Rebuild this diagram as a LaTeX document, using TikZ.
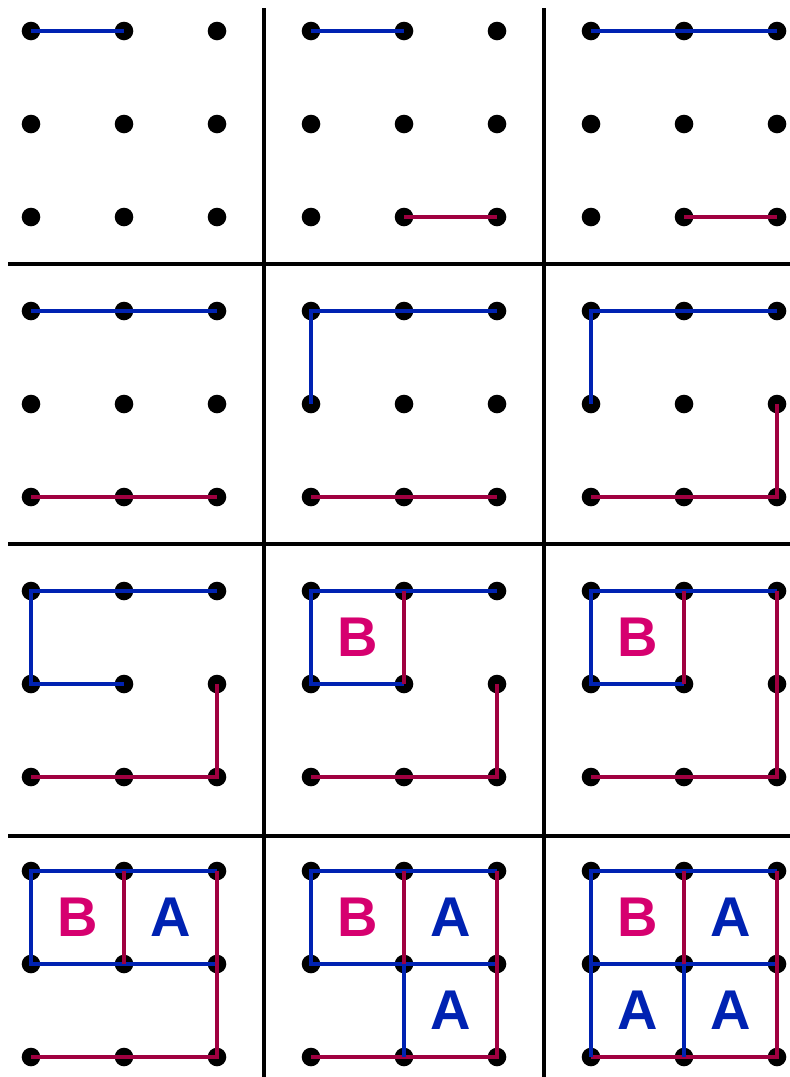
\documentclass[tikz,border=0pt]{standalone}
\usepackage{fontspec}
\setmainfont{Liberation Sans}
\usetikzlibrary{calc}
\definecolor{lblue}{RGB}{0,34,178}
\definecolor{lred}{RGB}{160,0,64}
\definecolor{lmag}{RGB}{214,0,111}
\tikzset{
  divider/.style={line width=4pt, black},
  bl/.style={line width=4pt, lblue},
  rd/.style={line width=4pt, lred},
  letterB/.style={text=lmag, font=\bfseries\fontsize{56}{56}\selectfont, inner sep=0pt, anchor=center},
  letterA/.style={text=lblue, font=\bfseries\fontsize{56}{56}\selectfont, inner sep=0pt, anchor=center},
}
\begin{document}
\begin{tikzpicture}[x=1pt, y=-1pt]
\useasboundingbox[fill=white] (0,0) rectangle (790,1077);
% dividers
\coordinate (v1t) at (264,8);  \coordinate (v1b) at (264,1077);
\coordinate (v2t) at (544,8);  \coordinate (v2b) at (544,1077);
\coordinate (h1l) at (8,264);  \coordinate (h1r) at (790,264);
\coordinate (h2l) at (8,544);  \coordinate (h2r) at (790,544);
\coordinate (h3l) at (8,836);  \coordinate (h3r) at (790,836);
\draw[divider] (v1t) -- (v1b);
\draw[divider] (v2t) -- (v2b);
\draw[divider] (h1l) -- (h1r);
\draw[divider] (h2l) -- (h2r);
\draw[divider] (h3l) -- (h3r);
% dots
\foreach \pr in {0,...,3}{
  \foreach \pc in {0,1,2}{
    \foreach \c in {0,1,2}{
      \foreach \r in {0,1,2}{
        \coordinate (p\pr\pc-\c\r) at ({31+280*\pc+93*\c},{31+280*\pr+93*\r});
        \fill (p\pr\pc-\c\r) circle (9.3);
      }
    }
  }
}
% row 1
\draw[bl] (p00-00) -- (p00-10);
\draw[bl] (p01-00) -- (p01-10);
\draw[rd] (p01-12) -- (p01-22);
\draw[bl] (p02-00) -- (p02-20);
\draw[rd] (p02-12) -- (p02-22);
% row 2
\draw[bl] (p10-00) -- (p10-20);
\draw[rd] (p10-02) -- (p10-22);
\draw[bl] (p11-01) -- (p11-00) -- (p11-20);
\draw[rd] (p11-02) -- (p11-22);
\draw[bl] (p12-01) -- (p12-00) -- (p12-20);
\draw[rd] (p12-02) -- (p12-22) -- (p12-21);
% row 3
\draw[bl] (p20-11) -- (p20-01) -- (p20-00) -- (p20-20);
\draw[rd] (p20-02) -- (p20-22) -- (p20-21);
\draw[bl] (p21-11) -- (p21-01) -- (p21-00) -- (p21-20);
\draw[rd] (p21-10) -- (p21-11);
\draw[rd] (p21-02) -- (p21-22) -- (p21-21);
\node[letterB] (b21) at ($(p21-00)!0.5!(p21-11)$) {B};
\draw[bl] (p22-11) -- (p22-01) -- (p22-00) -- (p22-20);
\draw[rd] (p22-10) -- (p22-11);
\draw[rd] (p22-02) -- (p22-22) -- (p22-20);
\node[letterB] (b22) at ($(p22-00)!0.5!(p22-11)$) {B};
% row 4
\draw[bl] (p30-20) -- (p30-00) -- (p30-01) -- (p30-21);
\draw[rd] (p30-10) -- (p30-11);
\draw[rd] (p30-02) -- (p30-22) -- (p30-20);
\node[letterB] (b30) at ($(p30-00)!0.5!(p30-11)$) {B};
\node[letterA] (a30a) at ($(p30-10)!0.5!(p30-21)$) {A};
\draw[bl] (p31-20) -- (p31-00) -- (p31-01) -- (p31-21);
\draw[rd] (p31-10) -- (p31-11);
\draw[rd] (p31-02) -- (p31-22) -- (p31-20);
\draw[bl] (p31-11) -- (p31-12);
\node[letterB] (b31) at ($(p31-00)!0.5!(p31-11)$) {B};
\node[letterA] (a31a) at ($(p31-10)!0.5!(p31-21)$) {A};
\node[letterA] (a31b) at ($(p31-11)!0.5!(p31-22)$) {A};
\draw[bl] (p32-20) -- (p32-00) -- (p32-01) -- (p32-21);
\draw[rd] (p32-10) -- (p32-11);
\draw[rd] (p32-02) -- (p32-22) -- (p32-20);
\draw[bl] (p32-11) -- (p32-12);
\draw[bl] (p32-01) -- (p32-02);
\node[letterB] (b32) at ($(p32-00)!0.5!(p32-11)$) {B};
\node[letterA] (a32a) at ($(p32-10)!0.5!(p32-21)$) {A};
\node[letterA] (a32b) at ($(p32-11)!0.5!(p32-22)$) {A};
\node[letterA] (a32c) at ($(p32-01)!0.5!(p32-12)$) {A};
\end{tikzpicture}
\end{document}
